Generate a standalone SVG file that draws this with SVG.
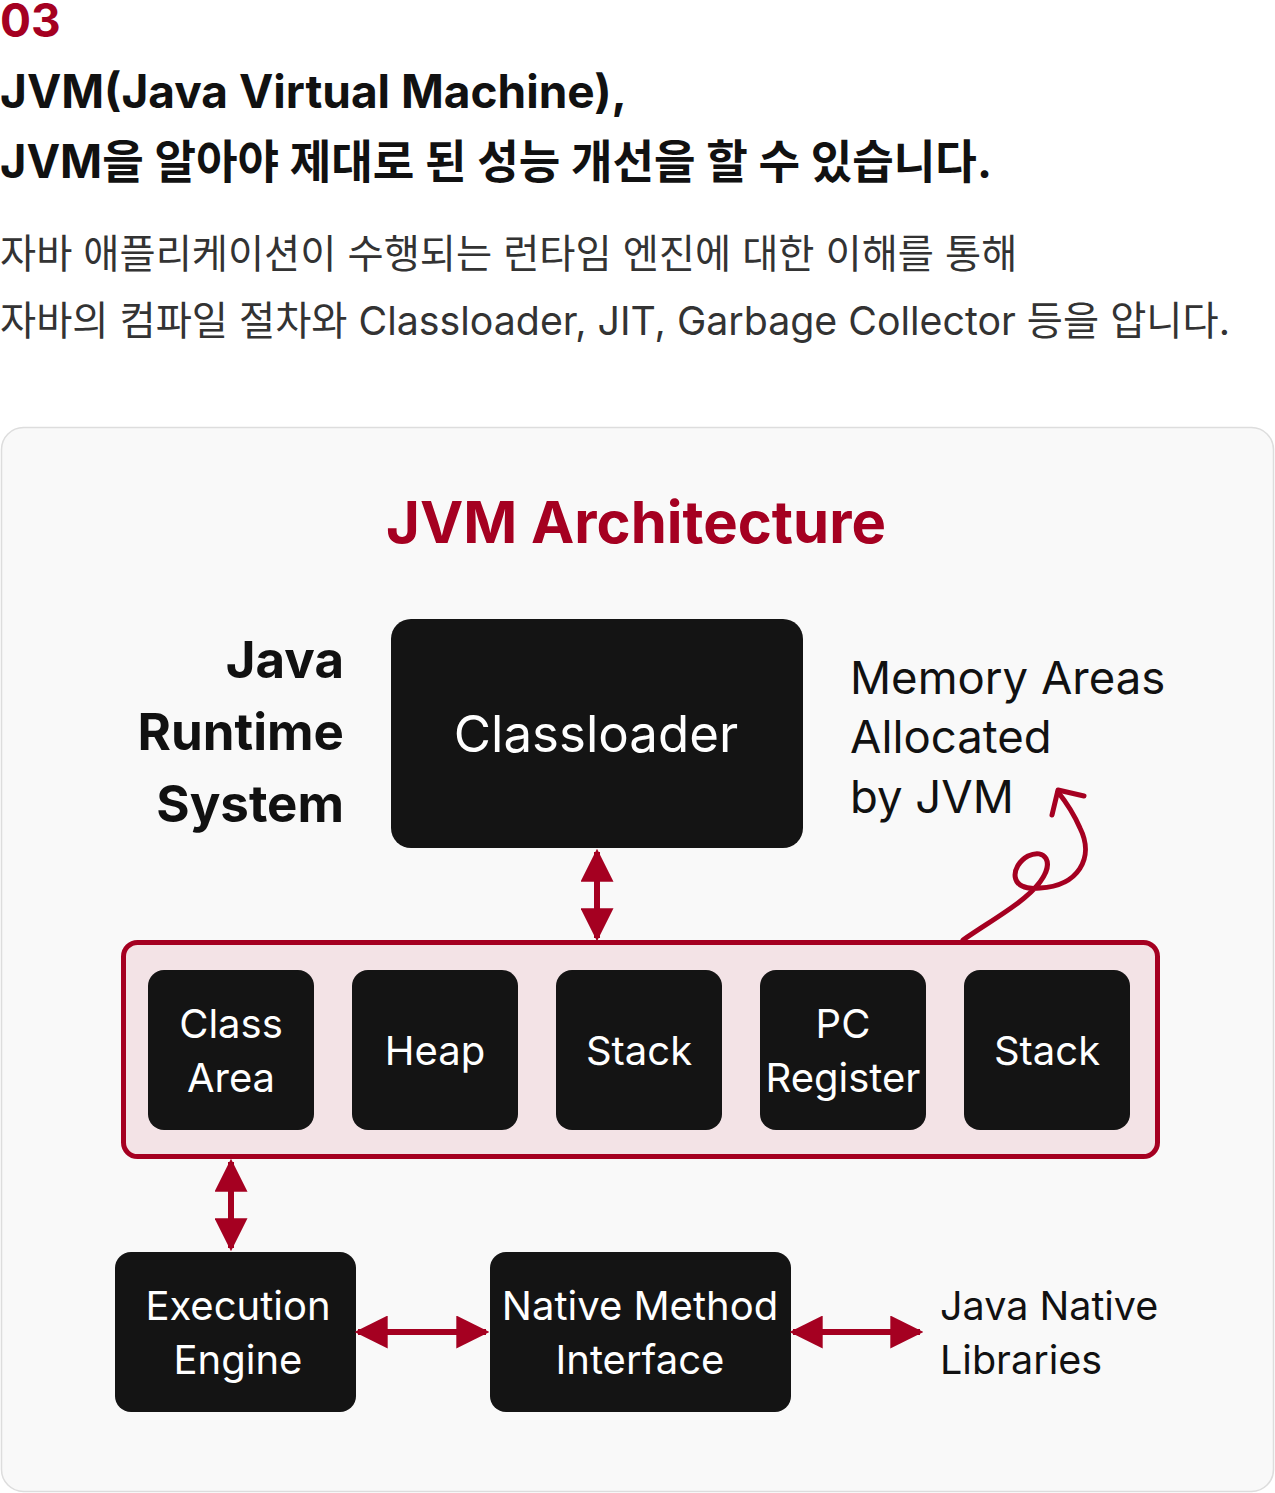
<svg xmlns="http://www.w3.org/2000/svg" width="1275" height="1493" viewBox="0 0 1275 1493">
<defs>
<style>
.t{font-family:Inter,"Noto Sans CJK KR","Noto Sans",sans-serif}
.red{fill:#a50021}
.box{fill:#141414}
.wt{fill:#ffffff;font-size:40px;text-anchor:middle}
.conn{stroke:#a50021;stroke-width:6;fill:none}
</style>
<marker id="ah" viewBox="0 0 10 10" refX="9" refY="5" markerWidth="5.5" markerHeight="5.5" markerUnits="strokeWidth" orient="auto-start-reverse">
<path d="M0,0 L10,5 L0,10 z" fill="#a50021"/>
</marker>
</defs>
<rect width="1275" height="1493" fill="#ffffff"/>
<g id="header" class="t">
<text x="0" y="37" font-size="46" font-weight="700" class="red">03</text>
<text x="0" y="108" font-size="46" font-weight="700" fill="#111">JVM(Java Virtual Machine),</text>
<text x="0" y="178" font-size="46" font-weight="700" fill="#111" textLength="992" lengthAdjust="spacingAndGlyphs">JVM을 알아야 제대로 된 성능 개선을 할 수 있습니다.</text>
<text x="0" y="268" font-size="39.3" fill="#333">자바 애플리케이션이 수행되는 런타임 엔진에 대한 이해를 통해</text>
<text x="0" y="335" font-size="39.3" fill="#333">자바의 컴파일 절차와 Classloader, JIT, Garbage Collector 등을 압니다.</text>
</g>
<rect x="1.5" y="427.5" width="1272" height="1064" rx="22" fill="#f9f9f9" stroke="#dddddd" stroke-width="1.5"/>
<g id="title" class="t">
<text x="636" y="543" font-size="58" font-weight="700" text-anchor="middle" class="red">JVM Architecture</text>
</g>
<g id="jrs-label" class="t" font-size="51" font-weight="700" text-anchor="end" fill="#111">
<text x="344" y="678">Java</text>
<text x="344" y="750">Runtime</text>
<text x="344" y="822">System</text>
</g>
<g id="classloader" class="t">
<rect x="391" y="619" width="412" height="229" rx="20" class="box"/>
<text x="596" y="752" font-size="51" fill="#fff" text-anchor="middle">Classloader</text>
</g>
<g id="memory-label" class="t" font-size="45.5" fill="#111">
<text x="850" y="694">Memory Areas</text>
<text x="850" y="753">Allocated</text>
<text x="850" y="813">by JVM</text>
</g>
<g id="memory-areas">
<rect x="123.5" y="942.5" width="1034" height="214" rx="14" fill="#f3e3e6" stroke="#a50021" stroke-width="5"/>
</g>
<g id="class-area" class="t">
<rect x="148" y="970" width="166" height="160" rx="16" class="box"/>
<text x="231" y="1038" class="wt">Class</text>
<text x="231" y="1092" class="wt">Area</text>
</g>
<g id="heap" class="t">
<rect x="352" y="970" width="166" height="160" rx="16" class="box"/>
<text x="435" y="1065" class="wt">Heap</text>
</g>
<g id="stack1" class="t">
<rect x="556" y="970" width="166" height="160" rx="16" class="box"/>
<text x="639" y="1065" class="wt">Stack</text>
</g>
<g id="pc-register" class="t">
<rect x="760" y="970" width="166" height="160" rx="16" class="box"/>
<text x="843" y="1038" class="wt">PC</text>
<text x="843" y="1092" class="wt">Register</text>
</g>
<g id="stack2" class="t">
<rect x="964" y="970" width="166" height="160" rx="16" class="box"/>
<text x="1047" y="1065" class="wt">Stack</text>
</g>
<g id="execution-engine" class="t">
<rect x="115" y="1252" width="241" height="160" rx="16" class="box"/>
<text x="238" y="1320" class="wt">Execution</text>
<text x="238" y="1374" class="wt">Engine</text>
</g>
<g id="nmi" class="t">
<rect x="490" y="1252" width="301" height="160" rx="16" class="box"/>
<text x="640" y="1320" class="wt">Native Method</text>
<text x="640" y="1374" class="wt">Interface</text>
</g>
<g id="jnl" class="t" font-size="39.5" fill="#111">
<text x="940" y="1320">Java Native</text>
<text x="940" y="1374">Libraries</text>
</g>
<g id="connectors">
<line x1="597" y1="852" x2="597" y2="938" class="conn" marker-start="url(#ah)" marker-end="url(#ah)"/>
<line x1="231" y1="1162" x2="231" y2="1248" class="conn" marker-start="url(#ah)" marker-end="url(#ah)"/>
<line x1="358" y1="1332" x2="486" y2="1332" class="conn" marker-start="url(#ah)" marker-end="url(#ah)"/>
<line x1="793" y1="1332" x2="920" y2="1332" class="conn" marker-start="url(#ah)" marker-end="url(#ah)"/>
<path d="M963,940 C995,918 1025,902 1040,882 C1055,862 1045,848 1028,856 C1010,866 1008,892 1040,888 C1078,886 1095,858 1080,828 C1073,812 1066,802 1058,792" stroke="#a50021" stroke-width="5" fill="none" stroke-linecap="round"/>
<path d="M1052,815 L1058,790 L1084,796" stroke="#a50021" stroke-width="5" fill="none" stroke-linecap="round" stroke-linejoin="round"/>
</g>
</svg>
